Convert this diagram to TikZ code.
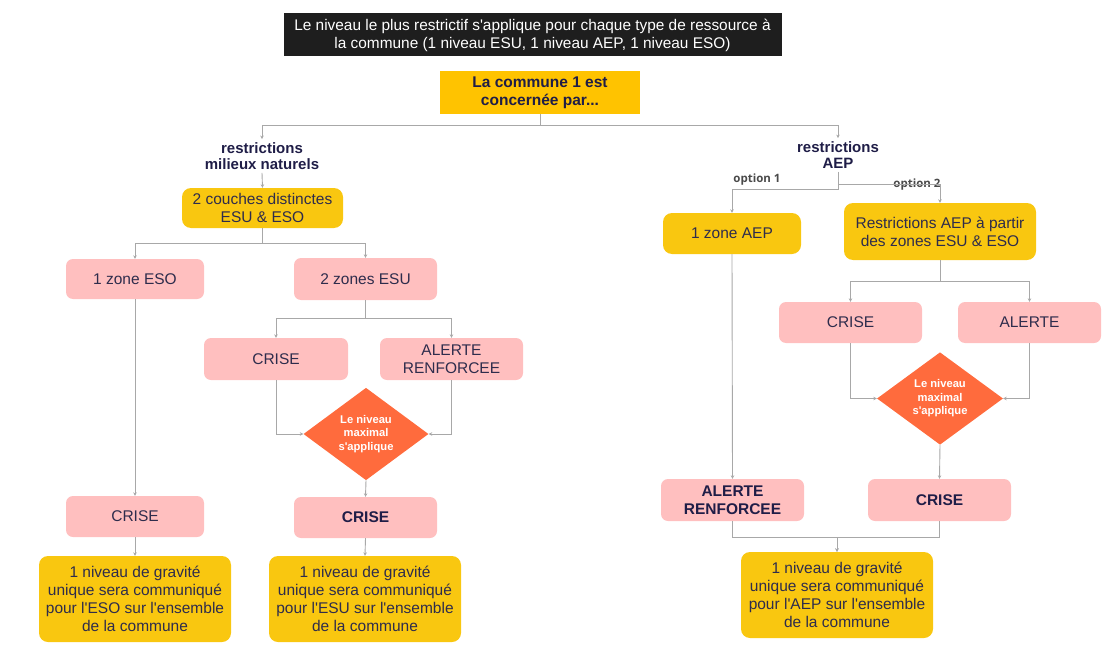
\documentclass[tikz,border=0pt]{standalone}
\usepackage{fontspec}
\setmainfont{Liberation Sans}[Ligatures=TeXOff]
\newfontfamily\opensans{Open Sans}[Ligatures=TeXOff]
\usetikzlibrary{arrows.meta,shapes.geometric}
\definecolor{titlebg}{HTML}{1E1E1E}
\definecolor{communeY}{HTML}{FFC300}
\definecolor{goldbox}{HTML}{F9C710}
\definecolor{pinkbox}{HTML}{FFBFBF}
\definecolor{orangeD}{HTML}{FF6B3D}
\definecolor{lineG}{HTML}{A8A8A8}
\definecolor{navy}{HTML}{1F1D47}
\definecolor{boxtxt}{HTML}{2E2C4C}
\definecolor{optG}{HTML}{4A4A4A}
\begin{document}
\begin{tikzpicture}[x=1pt,y=-1pt,
  base/.style={rectangle,inner sep=0pt,align=center,text=boxtxt,
    font=\fontsize{15.5}{18}\selectfont},
  goldb/.style={base,fill=goldbox,rounded corners=9pt},
  pinkb/.style={base,fill=pinkbox,rounded corners=7pt},
  boldtxt/.style={font=\fontsize{15.5}{18}\selectfont\bfseries,text=navy},
  lbl/.style={align=center,inner sep=3pt,font=\fontsize{15}{16.5}\selectfont\bfseries,text=navy},
  opt/.style={inner sep=0pt,font=\fontsize{11.5}{13}\selectfont\opensans\bfseries,text=optG},
  diam/.style={diamond,fill=orangeD,inner sep=0pt,align=center,text=white,
    font=\fontsize{11.2}{13.5}\selectfont\bfseries},
  conn/.style={draw=lineG,line width=0.9pt,-{Stealth[length=3.5pt,width=3.5pt]}},
  plain/.style={draw=lineG,line width=0.9pt}
]
\useasboundingbox (0,0) rectangle (1114,661);

% title
\node[rectangle,fill=titlebg,text=white,inner sep=0pt,align=center,
  minimum width=498,minimum height=43,font=\fontsize{15.4}{18}\selectfont]
  (title) at (532.5,35) {Le niveau le plus restrictif s'applique pour chaque type de ressource à\\la commune (1 niveau ESU, 1 niveau AEP, 1 niveau ESO)};

\node[base,fill=communeY,minimum width=200,minimum height=43,
  font=\fontsize{15.5}{18}\selectfont\bfseries,text=navy]
  (commune) at (540,92.5) {La commune 1 est\\concernée par...};

% left branch
\node[lbl] (rmn) at (262,156) {restrictions\\milieux naturels};
\node[goldb,minimum width=161,minimum height=40] (couches) at (262.5,208) {2 couches distinctes\\ESU \& ESO};
\node[pinkb,minimum width=138,minimum height=40] (eso) at (135,279) {1 zone ESO};
\node[pinkb,minimum width=143,minimum height=42] (esu) at (365.5,279) {2 zones ESU};
\node[pinkb,minimum width=144,minimum height=42] (crise1) at (276,359) {CRISE};
\node[pinkb,minimum width=143,minimum height=42] (alerte1) at (451.5,359) {ALERTE\\RENFORCEE};
\node[diam,minimum width=125,minimum height=88] (d1) at (366,434) {Le niveau\\maximal\\s'applique};
\node[pinkb,boldtxt,minimum width=143,minimum height=41] (criseB1) at (365.5,517.5) {CRISE};
\node[pinkb,minimum width=138,minimum height=41] (criseL) at (135,516.5) {CRISE};
\node[goldb,minimum width=192,minimum height=86] (final1) at (135,599) {1 niveau de gravité\\unique sera communiqué\\pour l'ESO sur l'ensemble\\de la commune};
\node[goldb,minimum width=192,minimum height=86] (final2) at (365,599) {1 niveau de gravité\\unique sera communiqué\\pour l'ESU sur l'ensemble\\de la commune};

% right branch
\node[lbl] (raep) at (838,155) {restrictions\\AEP};
\node[opt] (opt1) at (757,180) {option 1};
\node[opt] (opt2) at (917,184.5) {option 2};
\node[goldb,minimum width=138,minimum height=41] (zaep) at (732,233.5) {1 zone AEP};
\node[goldb,minimum width=192,minimum height=57] (restr) at (940,231.5) {Restrictions AEP à partir\\des zones ESU \& ESO};
\node[pinkb,minimum width=143,minimum height=41] (crise2) at (850.5,322.5) {CRISE};
\node[pinkb,minimum width=143,minimum height=41] (alerte2) at (1029.5,322.5) {ALERTE};
\node[diam,minimum width=126,minimum height=89] (d2) at (940,398.5) {Le niveau\\maximal\\s'applique};
\node[pinkb,boldtxt,minimum width=143,minimum height=42] (criseB2) at (939.5,500) {CRISE};
\node[pinkb,boldtxt,minimum width=143,minimum height=42] (alerteB2) at (732.5,500) {ALERTE\\RENFORCEE};
\node[goldb,minimum width=192,minimum height=86] (final3) at (837,595) {1 niveau de gravité\\unique sera communiqué\\pour l'AEP sur l'ensemble\\de la commune};

% connectors
\draw[conn] (commune.south) -- ++(0,11) -| (rmn.north);
\draw[conn] (commune.south) -- ++(0,11) -| (raep.north);
\draw[conn] (rmn.south) -- (couches.north);
\draw[conn] (couches.south) -- ++(0,15) -| (eso.north);
\draw[conn] (couches.south) -- ++(0,15) -| (esu.north);
\draw[conn] (esu.south) -- ++(0,18) -| (crise1.north);
\draw[conn] (esu.south) -- ++(0,18) -| (alerte1.north);
\draw[conn] (crise1.south) |- (d1.west);
\draw[conn] (alerte1.south) |- (d1.east);
\draw[conn] (d1.south) -- (criseB1.north);
\draw[conn] (eso.south) -- (criseL.north);
\draw[conn] (criseL.south) -- (final1.north);
\draw[conn] (criseB1.south) -- (final2.north);

\draw[conn] (raep.south) -- ++(0,13) -| (restr.north);
\draw[conn] (raep.south) -- ++(0,18) -| (zaep.north);
\draw[conn] (restr.south) -- ++(0,21) -| (crise2.north);
\draw[conn] (restr.south) -- ++(0,21) -| (alerte2.north);
\draw[conn] (crise2.south) |- (d2.west);
\draw[conn] (alerte2.south) |- (d2.east);
\draw[conn] (d2.south) -- (criseB2.north);
\draw[conn] (zaep.south) -- (alerteB2.north);
\draw[conn] (alerteB2.south) -- ++(0,16) -| (final3.north);
\draw[conn] (criseB2.south) -- ++(0,16) -| (final3.north);
\end{tikzpicture}
\end{document}
